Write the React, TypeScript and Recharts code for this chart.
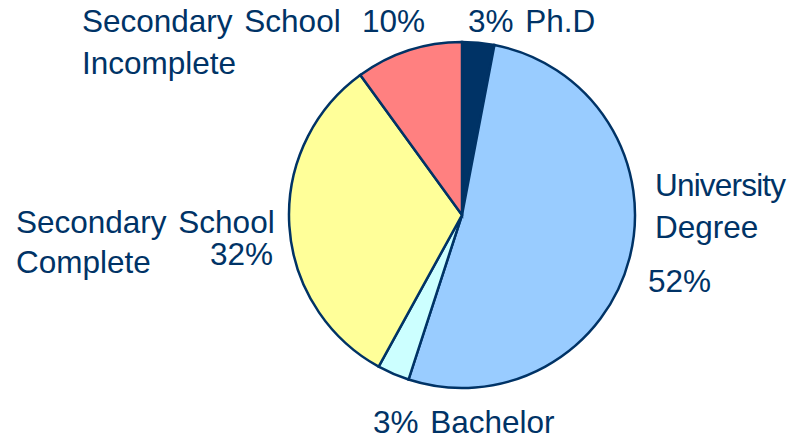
import React from "react";
import { PieChart, Pie, Cell } from "recharts";

const categories = [
  "Ph.D",
  "University Degree",
  "Bachelor",
  "Secondary School Complete",
  "Secondary School Incomplete",
];
const shares = [3, 52, 3, 32, 10];
const colors = ["#003366", "#99CCFF", "#CCFFFF", "#FFFF99", "#FF8080"];

const data = categories.map((name, i) => ({ name, value: shares[i] }));

const TEXT = "#003366";
const FONT = "'Liberation Sans', Arial, sans-serif";
const FS = 31.5;

type Line = { t: string; dx: number; dy: number; anchor?: "start" | "end"; ls?: number };

// label layout relative to pie center (text only)
const labelLayout = (index: number, pct: string): Line[] => {
  switch (index) {
    case 0:
      return [{ t: `${pct} Ph.D`, dx: 6, dy: -183 }];
    case 1:
      return [
        { t: "University", dx: 193, dy: -19, ls: -0.8 },
        { t: "Degree", dx: 193, dy: 23 },
        { t: pct, dx: 186, dy: 77 },
      ];
    case 2:
      return [{ t: `${pct} Bachelor`, dx: -89, dy: 218 }];
    case 3:
      return [
        { t: "Secondary School", dx: -446, dy: 18 },
        { t: "Complete", dx: -446, dy: 58 },
        { t: pct, dx: -189, dy: 50, anchor: "end" },
      ];
    default:
      return [
        { t: "Secondary School", dx: -380, dy: -183 },
        { t: "Incomplete", dx: -380, dy: -141 },
        { t: pct, dx: -100, dy: -183 },
      ];
  }
};

const renderLabel = (props: any) => {
  const { cx, cy, index, value } = props;
  const pct = `${value}%`;
  const lines = labelLayout(index, pct);
  return (
    <g key={`lbl-${index}`}>
      {lines.map((l, k) => (
        <text
          key={k}
          x={cx + l.dx}
          y={cy + l.dy}
          fill={TEXT}
          fontSize={FS}
          fontFamily={FONT}
          textAnchor={l.anchor || "start"}
          style={{ wordSpacing: "3px", letterSpacing: `${l.ls || 0}px` }}
        >
          {l.t}
        </text>
      ))}
    </g>
  );
};

export default function App() {
  return (
    <div style={{ position: "absolute", left: 0, top: 0, background: "#fff" }}>
      <PieChart width={793} height={440} margin={{ top: 0, right: 0, bottom: 0, left: 0 }}>
        <Pie
          data={data}
          dataKey="value"
          nameKey="name"
          cx={462}
          cy={215}
          outerRadius={173}
          startAngle={90}
          endAngle={-270}
          stroke="#003366"
          strokeWidth={2.5}
          label={renderLabel}
          labelLine={false}
          isAnimationActive={false}
        >
          {data.map((d, i) => (
            <Cell key={d.name} fill={colors[i]} />
          ))}
        </Pie>
      </PieChart>
    </div>
  );
}
